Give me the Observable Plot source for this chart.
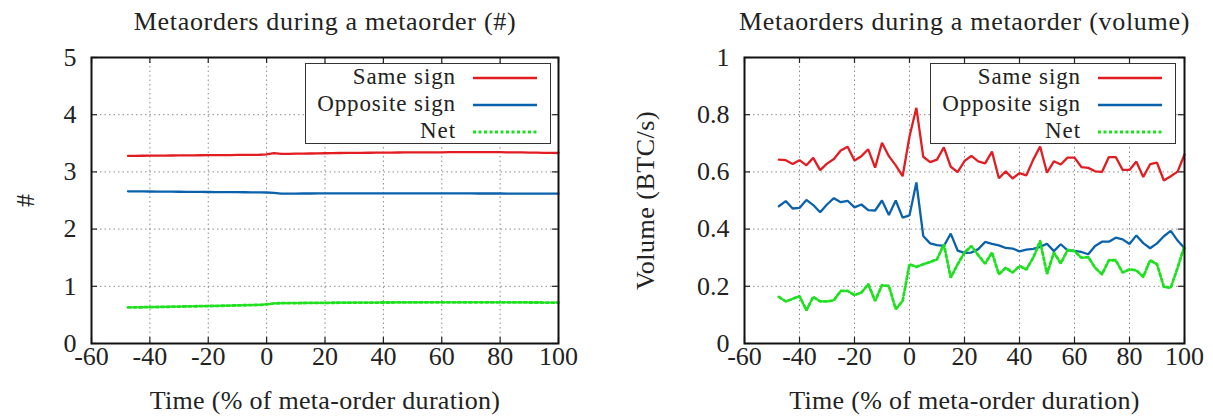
<!DOCTYPE html>
<html>
<head>
<meta charset="utf-8">
<script src="https://cdn.jsdelivr.net/npm/d3@7"></script>
<script src="https://cdn.jsdelivr.net/npm/@observablehq/plot@0.6"></script>
<style>
  html, body { margin: 0; padding: 0; background: #fff; }
  #wrap { position: relative; width: 1213px; height: 416px; overflow: hidden; font-family: "Liberation Serif", serif; color: #222; }
  .panel { position: absolute; top: 0; }
  .legend { position: absolute; top: 63px; width: 246px; height: 81px; box-sizing: border-box; border: 1.5px solid #333; background: #fff; }
  .legend .lab { position: absolute; right: 94px; font-size: 23px; letter-spacing: 0.9px; line-height: 20px; height: 20px; white-space: nowrap; }
  .legend svg { position: absolute; left: 167px; }
</style>
</head>
<body>
<div id="wrap"></div>
<script>
// ---------------- data ----------------
const time = [-47.5,-45,-42.5,-40,-37.5,-35,-32.5,-30,-27.5,-25,-22.5,-20,-17.5,-15,-12.5,-10,-7.5,-5,-2.5,
  0,2.5,5,7.5,10,12.5,15,17.5,20,22.5,25,27.5,30,32.5,35,37.5,40,42.5,45,47.5,50,52.5,55,57.5,60,62.5,65,67.5,70,72.5,75,77.5,80,82.5,85,87.5,90,92.5,95,97.5,100];

const countSame = [3.280,3.281,3.282,3.283,3.284,3.285,3.287,3.288,3.289,3.290,3.291,3.292,3.293,3.294,3.295,3.296,3.297,3.298,3.300,
  3.305,3.330,3.315,3.315,3.318,3.320,3.322,3.324,3.326,3.328,3.330,3.331,3.333,3.334,3.335,3.336,3.337,3.338,3.339,3.340,
  3.341,3.342,3.342,3.343,3.343,3.344,3.344,3.344,3.345,3.345,3.345,3.345,3.344,3.343,3.342,3.340,3.338,3.336,3.334,3.332,3.330];
const countOpposite = [2.660,2.659,2.658,2.657,2.656,2.655,2.654,2.653,2.652,2.651,2.650,2.649,2.648,2.647,2.646,2.645,2.644,2.643,2.642,
  2.640,2.635,2.620,2.620,2.621,2.622,2.622,2.623,2.623,2.624,2.624,2.625,2.625,2.625,2.625,2.625,2.625,2.625,2.625,2.625,
  2.625,2.624,2.624,2.624,2.624,2.623,2.623,2.623,2.623,2.622,2.622,2.622,2.622,2.621,2.621,2.621,2.620,2.620,2.620,2.620,2.620];
const countNet = [0.630,0.632,0.634,0.636,0.638,0.640,0.643,0.645,0.648,0.650,0.653,0.655,0.658,0.660,0.663,0.666,0.669,0.672,0.676,
  0.685,0.700,0.705,0.706,0.707,0.708,0.709,0.710,0.711,0.712,0.713,0.714,0.715,0.715,0.716,0.716,0.717,0.717,0.718,0.718,
  0.718,0.719,0.719,0.719,0.720,0.720,0.720,0.720,0.720,0.720,0.720,0.720,0.719,0.719,0.718,0.718,0.717,0.717,0.716,0.716,0.715];

const volSame = [0.643,0.641,0.628,0.641,0.623,0.649,0.606,0.629,0.645,0.675,0.688,0.640,0.655,0.679,0.615,0.702,0.655,0.623,0.585,
  0.724,0.824,0.653,0.634,0.643,0.686,0.618,0.599,0.638,0.656,0.637,0.630,0.671,0.578,0.602,0.577,0.596,0.588,0.643,0.689,
  0.597,0.637,0.626,0.650,0.650,0.617,0.614,0.602,0.600,0.652,0.652,0.607,0.607,0.636,0.582,0.627,0.632,0.570,0.585,0.601,0.661];
const volOpposite = [0.480,0.498,0.472,0.474,0.502,0.484,0.459,0.486,0.508,0.494,0.499,0.476,0.486,0.466,0.465,0.500,0.449,0.500,0.440,
  0.448,0.563,0.376,0.350,0.344,0.341,0.384,0.325,0.317,0.318,0.330,0.355,0.348,0.343,0.334,0.332,0.322,0.328,0.331,0.338,
  0.349,0.323,0.347,0.326,0.324,0.320,0.312,0.341,0.356,0.356,0.370,0.364,0.348,0.378,0.351,0.333,0.350,0.375,0.394,0.360,0.333];
const volNet = [0.163,0.147,0.156,0.166,0.116,0.163,0.147,0.147,0.151,0.184,0.184,0.169,0.178,0.207,0.149,0.204,0.201,0.120,0.149,
  0.277,0.268,0.277,0.285,0.294,0.347,0.230,0.277,0.318,0.341,0.309,0.279,0.318,0.242,0.265,0.248,0.271,0.259,0.300,0.358,
  0.243,0.318,0.280,0.327,0.323,0.300,0.302,0.265,0.242,0.291,0.291,0.248,0.259,0.256,0.233,0.291,0.277,0.198,0.195,0.265,0.341];

const seriesNames = ["Same sign", "Opposite sign", "Net"];
const seriesColors = ["#e11d22", "#0a62ad", "#1ee01e"];
const xTicks = [-60, -40, -20, 0, 20, 40, 60, 80, 100];
const countTicks = [0, 1, 2, 3, 4, 5];
const volumeTicks = [0, 0.2, 0.4, 0.6, 0.8, 1];
const titles = ["Metaorders during a metaorder (#)", "Metaorders during a metaorder (volume)"];
const yLabels = ["#", "Volume (BTC/s)"];
const xLabel = "Time (% of meta-order duration)";

// ---------------- drawing ----------------
const FONT = '"Liberation Serif", serif';
const H = 416, MT = 57, MB = 73;

function lineStyle(i) {
  return i === 2
    ? {stroke: seriesColors[i], strokeWidth: 2.8, strokeDasharray: "3,2.5"}
    : {stroke: seriesColors[i], strokeWidth: 2.3};
}

function panel({values, yDomain, yTicks, yLabel, yLabelOffset, title, width, marginLeft, marginRight}) {
  const fh = H - MT - MB;
  const fw = width - marginLeft - marginRight;
  const tk = 6;
  const lines = values.map((arr, i) =>
    Plot.line(time.map((t, j) => ({t, v: arr[j]})), {x: "t", y: "v", ...lineStyle(i), strokeLinejoin: "miter"}));
  const svg = Plot.plot({
    width, height: H, marginTop: MT, marginBottom: MB, marginLeft, marginRight,
    style: {fontFamily: FONT, fontSize: "26px", background: "white", color: "#222", overflow: "visible"},
    x: {domain: [-60, 100]},
    y: {domain: yDomain},
    marks: [
      Plot.gridX(xTicks, {stroke: "#8a8a8a", strokeOpacity: 1, strokeWidth: 1, strokeDasharray: "1.5,3"}),
      Plot.gridY(yTicks, {stroke: "#8a8a8a", strokeOpacity: 1, strokeWidth: 1, strokeDasharray: "1.5,3"}),
      Plot.tickX(xTicks, {x: d => d, insetTop: fh - tk, stroke: "#222", strokeWidth: 1.2}),
      Plot.tickX(xTicks, {x: d => d, insetBottom: fh - tk, stroke: "#222", strokeWidth: 1.2}),
      Plot.tickY(yTicks, {y: d => d, insetRight: fw - tk, stroke: "#222", strokeWidth: 1.2}),
      Plot.tickY(yTicks, {y: d => d, insetLeft: fw - tk, stroke: "#222", strokeWidth: 1.2}),
      Plot.axisX(xTicks, {tickSize: 0, tickPadding: 3, tickFormat: d => String(d), label: null}),
      Plot.axisY(yTicks, {tickSize: 0, tickPadding: 15, tickFormat: d => String(d), label: null}),
      ...lines,
      Plot.frame({stroke: "#111", strokeWidth: 2}),
      Plot.text([title], {text: d => d, frameAnchor: "top", lineAnchor: "middle", textAnchor: "middle", dy: -36}),
      Plot.text([yLabel], {text: d => d, frameAnchor: "left", lineAnchor: "middle", textAnchor: "middle", dx: -yLabelOffset, rotate: -90}),
      Plot.text([xLabel], {text: d => d, frameAnchor: "bottom", lineAnchor: "middle", textAnchor: "middle", dy: 57})
    ]
  });
  svg.querySelectorAll("text").forEach(t => {
    if (t.textContent === title) t.style.letterSpacing = "0.7px";
    if (t.textContent === xLabel) t.style.letterSpacing = "0.3px";
    if (t.textContent === yLabel && yLabel.length > 2) t.style.letterSpacing = "0.5px";
  });
  return svg;
}

const wrap = document.getElementById("wrap");

const left = panel({
  values: [countSame, countOpposite, countNet],
  yDomain: [0, 5], yTicks: countTicks, yLabel: yLabels[0], yLabelOffset: 66,
  title: titles[0], width: 606, marginLeft: 91, marginRight: 48
});
left.classList.add("panel");
left.style.left = "0px";
wrap.appendChild(left);

const right = panel({
  values: [volSame, volOpposite, volNet],
  yDomain: [0, 1], yTicks: volumeTicks, yLabel: yLabels[1], yLabelOffset: 99,
  title: titles[1], width: 607, marginLeft: 138, marginRight: 29
});
right.classList.add("panel");
right.style.left = "606px";
wrap.appendChild(right);

// legends
function legend(leftPx) {
  const box = document.createElement("div");
  box.className = "legend";
  box.style.left = leftPx + "px";
  const rowY = [14, 41, 68];
  seriesNames.forEach((name, i) => {
    const lab = document.createElement("div");
    lab.className = "lab";
    lab.textContent = name;
    lab.style.top = (rowY[i] - 11) + "px";
    box.appendChild(lab);
    const ns = "http://www.w3.org/2000/svg";
    const svg = document.createElementNS(ns, "svg");
    svg.setAttribute("width", 66); svg.setAttribute("height", 8);
    svg.style.top = (rowY[i] - 4) + "px";
    const ln = document.createElementNS(ns, "line");
    ln.setAttribute("x1", 0); ln.setAttribute("x2", 64); ln.setAttribute("y1", 4); ln.setAttribute("y2", 4);
    const st = lineStyle(i);
    ln.setAttribute("stroke", st.stroke);
    ln.setAttribute("stroke-width", st.strokeWidth);
    if (st.strokeDasharray) ln.setAttribute("stroke-dasharray", st.strokeDasharray);
    svg.appendChild(ln);
    box.appendChild(svg);
  });
  wrap.appendChild(box);
}
legend(305);
legend(930);
</script>
</body>
</html>
